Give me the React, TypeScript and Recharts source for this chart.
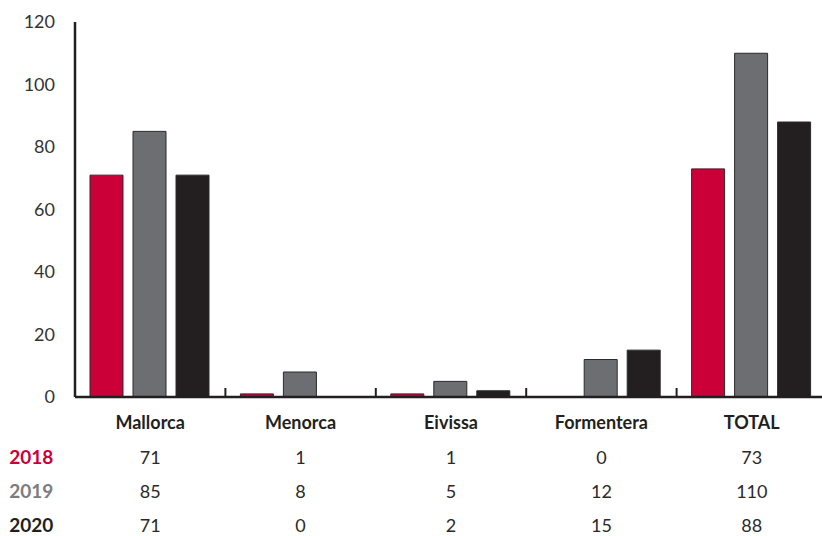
import { BarChart, Bar, XAxis, YAxis } from 'recharts';

const categories = ['Mallorca', 'Menorca', 'Eivissa', 'Formentera', 'TOTAL'];
const values2018 = [71, 1, 1, 0, 73];
const values2019 = [85, 8, 5, 12, 110];
const values2020 = [71, 0, 2, 15, 88];
const yTicks = [0, 20, 40, 60, 80, 100, 120];

const series = [
  { key: 'y2018', label: '2018', values: values2018, fill: '#cc0039', text: '#cc0039' },
  { key: 'y2019', label: '2019', values: values2019, fill: '#6d6e72', text: '#7b7c80' },
  { key: 'y2020', label: '2020', values: values2020, fill: '#231f20', text: '#231f20' },
];

const data = categories.map((name, i) => ({
  name,
  y2018: values2018[i],
  y2019: values2019[i],
  y2020: values2020[i],
}));

const FONT = 'Lato, "Noto Sans", sans-serif';
const CHART_W = 830;
const PLOT_LEFT = 75;
const HALF_BAND = (CHART_W - 3 - PLOT_LEFT) / categories.length / 2;

function TableTick(props: any) {
  const { x, y, index, payload } = props;
  return (
    <g>
      {index < categories.length - 1 && (
        <line x1={x + HALF_BAND} x2={x + HALF_BAND} y1={y} y2={y - 9} stroke="#231f20" strokeWidth={2} />
      )}
      <text x={x} y={y + 32} textAnchor="middle" fontFamily={FONT} fontWeight={700} fontSize={18} fill="#231f20">
        {payload.value}
      </text>
      {series.map((s, r) => (
        <text key={s.key} x={x} y={y + 67 + r * 34} textAnchor="middle" fontFamily={FONT} fontSize={18} fill="#2a2a2a">
          {s.values[index]}
        </text>
      ))}
      {index === 0 &&
        series.map((s, r) => (
          <text key={'l' + s.key} x={x - 141} y={y + 67 + r * 34} textAnchor="start" fontFamily={FONT} fontWeight={700} fontSize={19} fill={s.text}>
            {s.label}
          </text>
        ))}
    </g>
  );
}

export default function App() {
  return (
    <div style={{ position: 'absolute', left: 0, top: 0, width: 822, height: 536, overflow: 'hidden', background: '#fff' }}>
      <BarChart
        width={CHART_W}
        height={536}
        data={data}
        margin={{ top: 22, right: 3, bottom: 0, left: 0 }}
        barCategoryGap={15}
        barGap={10}
      >
        <XAxis
          dataKey="name"
          height={139}
          axisLine={{ stroke: '#231f20', strokeWidth: 2.5 }}
          tickLine={false}
          tickSize={0}
          tickMargin={0}
          tick={<TableTick />}
          interval={0}
        />
        <YAxis
          width={PLOT_LEFT}
          domain={[0, 120]}
          ticks={yTicks}
          axisLine={{ stroke: '#231f20', strokeWidth: 2.5 }}
          tickLine={false}
          tickSize={0}
          tickMargin={20}
          tick={{ fontFamily: FONT, fontSize: 18, fill: '#333' }}
        />
        {series.map((s) => (
          <Bar key={s.key} dataKey={s.key} fill={s.fill} stroke="#2a2a2a" strokeWidth={1} isAnimationActive={false} />
        ))}
      </BarChart>
    </div>
  );
}
